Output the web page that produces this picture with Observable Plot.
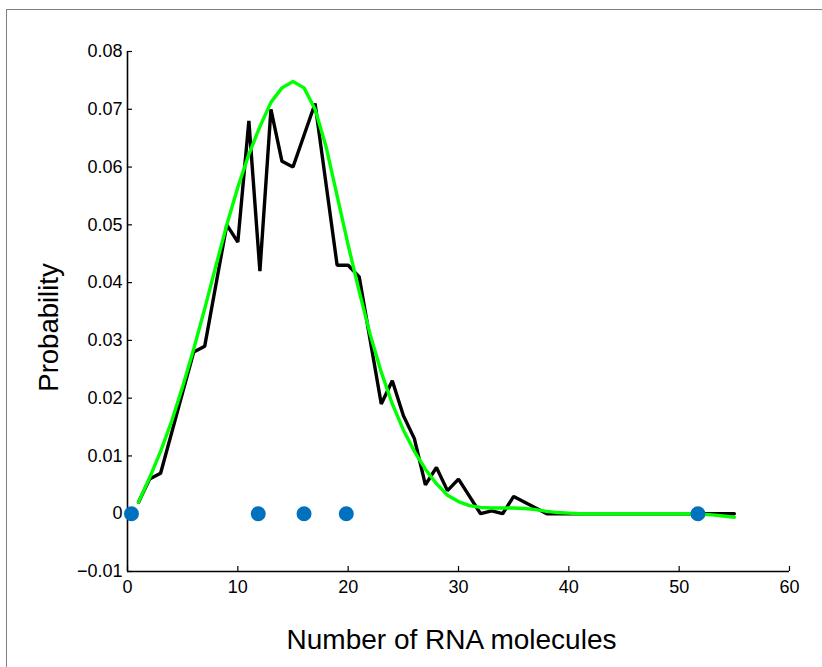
<!DOCTYPE html>
<html>
<head>
<meta charset="utf-8">
<script src="https://cdn.jsdelivr.net/npm/d3@7"></script>
<script src="https://cdn.jsdelivr.net/npm/@observablehq/plot@0.6"></script>
<style>
  html, body { margin: 0; padding: 0; background: #fff; }
  #wrap { position: relative; width: 822px; height: 667px; overflow: hidden; }
  #frame { position: absolute; left: 6px; top: 9px; width: 900px; height: 800px;
           border: 1.5px solid #808080; pointer-events: none; }
</style>
</head>
<body>
<div id="wrap"><div id="chart"></div><div id="frame"></div></div>
<script>
// Number of RNA molecules (x) for the observed and fitted distributions
const counts = [1,2,3,4,5,6,7,8,9,10,11,12,13,14,15,16,17,18,19,20,
  21,22,23,24,25,26,27,28,29,30,31,32,33,34,35,36,37,38,39,40,
  41,42,43,44,45,46,47,48,49,50,51,52,53,54,55];

// Observed probability (black line)
const observed = [0.002,0.006,0.007,0.014,0.021,0.028,0.029,0.0395,0.050,0.047,
  0.068,0.042,0.070,0.061,0.060,0.0655,0.071,0.057,0.043,0.043,
  0.041,0.030,0.019,0.023,0.017,0.013,0.005,0.008,0.004,0.006,
  0.003,0.000,0.0005,0.000,0.003,0.002,0.001,0,0,0,
  0,0,0,0,0,0,0,0,0,0,0,0,0,0,0];

// Fitted probability (green line)
const fitted = [0.002,0.0062,0.0108,0.0160,0.0220,0.0285,0.0355,0.0428,0.0500,0.0565,
  0.0622,0.0670,0.0712,0.0737,0.0748,0.0737,0.0700,0.0635,0.0550,0.0465,
  0.0385,0.031,0.0245,0.019,0.0145,0.0108,0.0077,0.0052,0.0032,0.0021,
  0.0014,0.0011,0.0010,0.0010,0.0010,0.0009,0.0007,0.0004,0.0002,0.0001,
  0,0,0,0,0,0,0,0,0,0,0,-0.0001,-0.0002,-0.0004,-0.0006];

// Blue markers on the zero line
const markerX = [0.36, 11.85, 16.0, 19.83, 51.7];
const markerY = [0, 0, 0, 0, 0];

// Axes
const xTicks = [0,10,20,30,40,50,60];
const xTickLabels = ["0","10","20","30","40","50","60"];
const yTicks = [-0.01,0,0.01,0.02,0.03,0.04,0.05,0.06,0.07,0.08];
const yTickLabels = ["\u22120.01","0","0.01","0.02","0.03","0.04","0.05","0.06","0.07","0.08"];
const xLabel = "Number of RNA molecules";
const yLabel = "Probability";

const obsData = counts.map((c, i) => ({x: c, y: observed[i]}));
const fitData = counts.map((c, i) => ({x: c, y: fitted[i]}));
const dotData = markerX.map((x, i) => ({x, y: markerY[i]}));

const chart = Plot.plot({
  width: 822,
  height: 667,
  marginLeft: 127,
  marginRight: 33,
  marginTop: 51,
  marginBottom: 96,
  x: {domain: [0, 60]},
  y: {domain: [-0.01, 0.08]},
  style: {fontFamily: "'Liberation Sans', Arial, Helvetica, sans-serif", fontSize: "18px", color: "black", background: "transparent"},
  marks: [
    Plot.axisX(xTicks, {tickSize: -5, tickPadding: 14, strokeWidth: 1.2,
      tickFormat: d => xTickLabels[xTicks.indexOf(d)], label: null}),
    Plot.axisY(yTicks, {tickSize: -5, tickPadding: 10, strokeWidth: 1.2,
      tickFormat: d => yTickLabels[yTicks.indexOf(d)], label: null}),
    Plot.ruleX([0], {stroke: "black", strokeWidth: 1.6}),
    Plot.ruleY([-0.01], {stroke: "black", strokeWidth: 1.6}),
    Plot.line(obsData, {x: "x", y: "y", stroke: "black", strokeWidth: 3.4, strokeLinejoin: "miter"}),
    Plot.line(fitData, {x: "x", y: "y", stroke: "#00ff00", strokeWidth: 3.4}),
    Plot.dot(dotData, {x: "x", y: "y", r: 7.5, fill: "#0072BD", stroke: "none"}),
    Plot.text([xLabel], {frameAnchor: "bottom", textAnchor: "middle", lineAnchor: "bottom",
      dx: -7, dy: 77, fontSize: 28}),
    Plot.text([yLabel], {frameAnchor: "left", rotate: -90, textAnchor: "middle", lineAnchor: "middle",
      dx: -78, dy: 16, fontSize: 27.5})
  ]
});
document.getElementById("chart").appendChild(chart);
</script>
</body>
</html>
